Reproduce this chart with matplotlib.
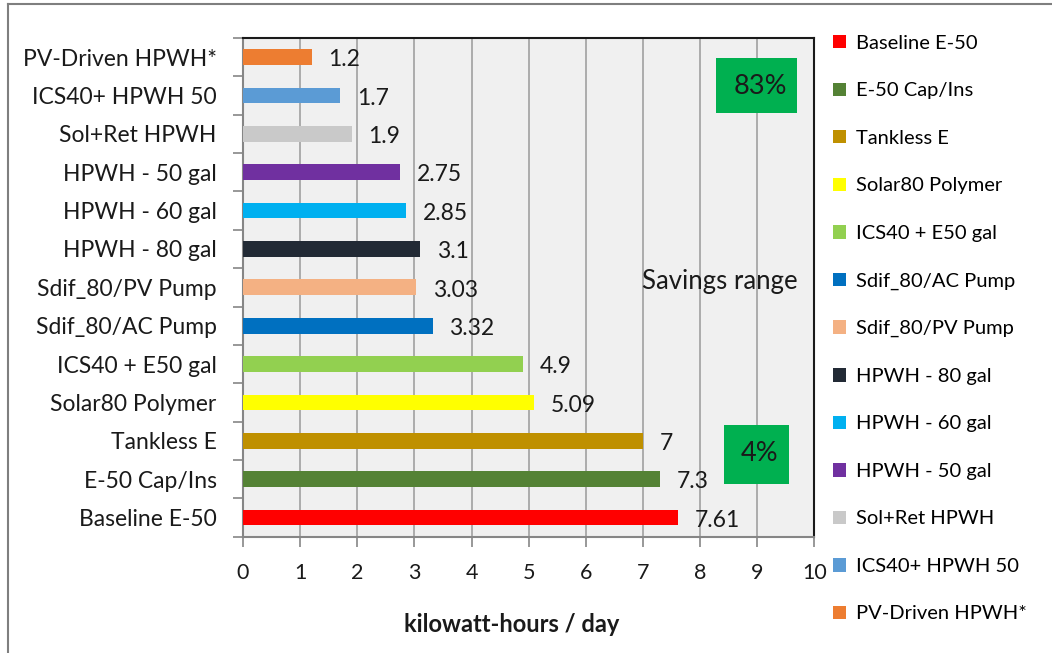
import matplotlib
matplotlib.use("Agg")
import matplotlib.pyplot as plt
from matplotlib.lines import Line2D
from matplotlib.patches import Rectangle

plt.rcParams["font.family"] = ["Lato", "DejaVu Sans"]

# bottom-to-top order, same as the legend from top to bottom
systems = ["Baseline E-50", "E-50 Cap/Ins", "Tankless E", "Solar80 Polymer",
           "ICS40 + E50 gal", "Sdif_80/AC Pump", "Sdif_80/PV Pump",
           "HPWH - 80 gal", "HPWH - 60 gal", "HPWH - 50 gal",
           "Sol+Ret HPWH", "ICS40+ HPWH 50", "PV-Driven HPWH*"]
kwh_per_day = [7.61, 7.3, 7, 5.09, 4.9, 3.32, 3.03, 3.1, 2.85, 2.75, 1.9, 1.7, 1.2]
value_labels = ["7.61", "7.3", "7", "5.09", "4.9", "3.32", "3.03", "3.1",
                "2.85", "2.75", "1.9", "1.7", "1.2"]
bar_colors = ["#ff0000", "#548235", "#bf9000", "#ffff00", "#92d050", "#0070c0",
              "#f4b183", "#222a35", "#00b0f0", "#7030a0", "#c9c9c9", "#5b9bd5",
              "#ed7d31"]
x_ticks = list(range(0, 11))
savings_low = "4%"
savings_high = "83%"

fig = plt.figure(figsize=(10.52, 6.53), dpi=100)
ax = fig.add_axes([0.231, 0.178, 0.543, 0.764])
ax.set_facecolor("#f0f0f0")

handles = []
for i, (name, v, c) in enumerate(zip(systems, kwh_per_day, bar_colors)):
    b = ax.barh(i, v, height=0.41, color=c, label=name, zorder=3)
    handles.append(b)
    ax.annotate(value_labels[i], (v, i), xytext=(12, -2), textcoords="offset points",
                ha="left", va="center", fontsize=16.5, color="#1a1a1a", zorder=4)

ax.set_xlim(0, 10)
ax.set_ylim(-0.5, len(systems) - 0.5)
ax.set_xticks(x_ticks)
ax.set_xticklabels([str(t) for t in x_ticks], fontsize=15.5, color="#1a1a1a")
ax.set_yticks(range(len(systems)))
ax.set_yticklabels(systems, fontsize=16.5, color="#1a1a1a")
ax.set_yticks([k - 0.5 for k in range(len(systems) + 1)], minor=True)
ax.tick_params(axis="y", which="major", length=0, pad=19)
ax.tick_params(axis="y", which="minor", length=7, color="#868686", width=1.2)
ax.tick_params(axis="x", length=7, color="#868686", width=1.2, pad=12)
ax.grid(axis="x", color="#a6a6a6", linewidth=1.3, zorder=0)
ax.set_axisbelow(True)

for s in ["top", "right"]:
    ax.spines[s].set_color("#1a1a1a")
    ax.spines[s].set_linewidth(1.5)
for s in ["left", "bottom"]:
    ax.spines[s].set_color("#868686")
    ax.spines[s].set_linewidth(1.5)

ax.set_xlabel("kilowatt-hours / day", fontsize=17, fontweight="bold",
              color="#1a1a1a")
ax.xaxis.set_label_coords(0.47, -0.153)

# savings range call-outs
ax.add_patch(Rectangle((8.28, 10.54), 1.42, 1.44, fc="#00b050", ec="none", zorder=5))
ax.add_patch(Rectangle((8.42, 0.87), 1.14, 1.54, fc="#00b050", ec="none", zorder=5))
ax.text(9.05, 11.22, savings_high, ha="center", va="center", fontsize=19.5,
        color="#1a1a1a", zorder=6)
ax.text(9.05, 1.68, savings_low, ha="center", va="center", fontsize=19.5,
        color="#1a1a1a", zorder=6)
ax.text(8.35, 6.14, "Savings range", ha="center", va="center", fontsize=18.5,
        color="#1a1a1a", zorder=6)

fig.legend(handles=handles, loc="upper left", bbox_to_anchor=(0.784, 0.959),
           frameon=False, fontsize=14.5, handlelength=0.65, handleheight=0.65,
           handletextpad=0.5, labelspacing=1.515, borderaxespad=0)

# chart-area frame
fig.add_artist(Line2D([0.0075, 0.0075], [0, 0.994], transform=fig.transFigure,
                      color="#7f7f7f", linewidth=1.5))
fig.add_artist(Line2D([0.0075, 1.0], [0.994, 0.994], transform=fig.transFigure,
                      color="#7f7f7f", linewidth=1.5))

fig.savefig("out.png", dpi=100)
